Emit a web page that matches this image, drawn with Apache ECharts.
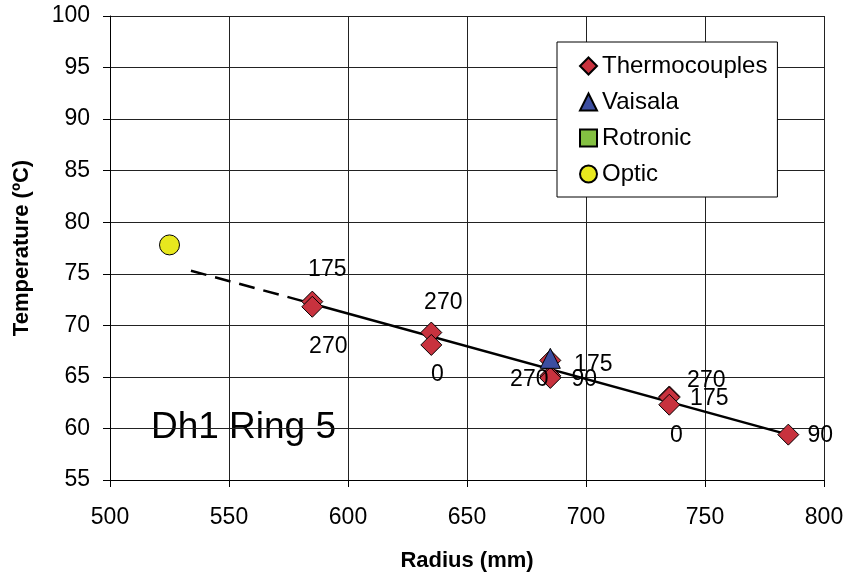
<!DOCTYPE html>
<html>
<head>
<meta charset="utf-8">
<script src="https://cdn.jsdelivr.net/npm/echarts@6/dist/echarts.min.js"></script>
<style>
  html, body { margin: 0; padding: 0; background: #fff; }
  #chart { width: 848px; height: 577px; }
</style>
</head>
<body>
<div id="chart"></div>
<script>
// Thermocouple readings: radius (mm), temperature (°C) and angular position label
const thermoRadius = [585, 585, 635, 635, 685, 685, 685, 735, 735, 735, 785];
const thermoTemp   = [72.3, 71.8, 69.3, 68.1, 66.6, 65.1, 64.9, 63.1, 63.0, 62.3, 59.4];
const thermoAngle  = ['175', '270', '270', '0', '175', '270', '90', '270', '175', '0', '90'];

// Other sensors
const vaisalaRadius = [685];
const vaisalaTemp   = [66.8];
const rotronicRadius = [];
const rotronicTemp   = [];
const opticRadius = [525];
const opticTemp   = [77.8];

// Linear fit through the thermocouples (solid) and its extrapolation (dashed)
const fitRadius   = [585, 785];
const fitTemp     = [72.1, 59.4];
const extraRadius = [534, 585];
const extraTemp   = [75.3, 72.1];

// Axis ticks
const xTicks = { min: 500, max: 800, step: 50 };
const yTicks = { min: 55, max: 100, step: 5 };

// Where each angle label sits relative to its marker (pixels)
const angleLabelOffset = [
  [15, -32], [16, 40], [12, -30], [6, 30], [43, 4], [-21, 4], [34, 2],
  [37, -16], [40, 1], [7, 31], [32, 1]
];

const FONT = 'Arial, "Liberation Sans", Helvetica, sans-serif';
const pairs = (xs, ys) => xs.map((x, i) => [x, ys[i]]);

const thermoData = thermoRadius.map((x, i) => ({
  value: [x, thermoTemp[i]],
  name: thermoAngle[i]
}));

const chart = echarts.init(document.getElementById('chart'), null, { renderer: 'canvas' });

chart.setOption({
  backgroundColor: '#ffffff',
  animation: false,
  textStyle: { fontFamily: FONT, color: '#000' },
  grid: { left: 110, right: 24, top: 16, bottom: 95, containLabel: false },
  xAxis: {
    type: 'value',
    min: xTicks.min, max: xTicks.max, interval: xTicks.step,
    name: 'Radius (mm)',
    nameLocation: 'middle',
    nameGap: 70,
    nameTextStyle: { fontFamily: FONT, fontSize: 22, fontWeight: 'bold', color: '#000' },
    axisLine: { show: true, lineStyle: { color: '#000', width: 1 } },
    axisTick: { show: true, inside: false, length: 7, lineStyle: { color: '#000' } },
    axisLabel: { fontFamily: FONT, fontSize: 23, color: '#000', margin: 26 },
    splitLine: { show: true, lineStyle: { color: '#222', width: 1 } }
  },
  yAxis: {
    type: 'value',
    min: yTicks.min, max: yTicks.max, interval: yTicks.step,
    name: 'Temperature (ºC)',
    nameLocation: 'middle',
    nameGap: 77,
    nameRotate: 90,
    nameTextStyle: { fontFamily: FONT, fontSize: 22, fontWeight: 'bold', color: '#000' },
    axisLine: { show: true, lineStyle: { color: '#000', width: 1 } },
    axisTick: { show: true, inside: false, length: 7, lineStyle: { color: '#000' } },
    axisLabel: { fontFamily: FONT, fontSize: 23, color: '#000', margin: 20 },
    splitLine: { show: true, lineStyle: { color: '#222', width: 1 } }
  },
  legend: {
    orient: 'vertical',
    left: 557, top: 42,
    data: ['Thermocouples', 'Vaisala', 'Rotronic', 'Optic'],
    backgroundColor: '#fff',
    borderColor: '#000',
    borderWidth: 1,
    padding: [12, 10, 11, 22],
    itemWidth: 17, itemHeight: 17,
    itemGap: 12,
    itemTextGap: 8,
    textStyle: { fontFamily: FONT, fontSize: 24, color: '#000' }
  },
  graphic: [{
    type: 'group',
    z: 50,
    children: [
      { type: 'rect', shape: { x: 137, y: 397, width: 213, height: 61 }, style: { fill: '#fff' } },
      { type: 'text', x: 243.5, y: 428,
        style: { text: 'Dh1 Ring 5', font: '37px ' + FONT, fill: '#000', align: 'center', verticalAlign: 'middle' } }
    ]
  }],
  series: [
    {
      name: 'extrapolation', type: 'line', data: pairs(extraRadius, extraTemp),
      symbol: 'none', silent: true, z: 3,
      lineStyle: { color: '#000', width: 2.5, type: [16, 9] }
    },
    {
      name: 'fit', type: 'line', data: pairs(fitRadius, fitTemp),
      symbol: 'none', silent: true, z: 3,
      lineStyle: { color: '#000', width: 2.5 }
    },
    {
      name: 'Thermocouples', type: 'scatter', data: thermoData, z: 5,
      symbol: 'diamond', symbolSize: 21,
      itemStyle: { color: '#c8323e', borderColor: '#000', borderWidth: 1, opacity: 1 },
      label: {
        show: true, position: 'inside',
        formatter: p => p.name,
        fontFamily: FONT, fontSize: 23, color: '#000'
      },
      labelLayout: p => ({
        dx: angleLabelOffset[p.dataIndex][0],
        dy: angleLabelOffset[p.dataIndex][1],
        hideOverlap: false
      })
    },
    {
      name: 'Vaisala', type: 'scatter', data: pairs(vaisalaRadius, vaisalaTemp), z: 6,
      symbol: 'triangle', symbolSize: 20,
      itemStyle: { color: '#3c4ea0', borderColor: '#000', borderWidth: 1, opacity: 1 }
    },
    {
      name: 'Rotronic', type: 'scatter', data: pairs(rotronicRadius, rotronicTemp), z: 6,
      symbol: 'rect', symbolSize: 16,
      itemStyle: { color: '#84c042', borderColor: '#000', borderWidth: 1, opacity: 1 }
    },
    {
      name: 'Optic', type: 'scatter', data: pairs(opticRadius, opticTemp), z: 6,
      symbol: 'circle', symbolSize: 20,
      itemStyle: { color: '#e8e81e', borderColor: '#000', borderWidth: 1, opacity: 1 }
    }
  ]
});
</script>
</body>
</html>
